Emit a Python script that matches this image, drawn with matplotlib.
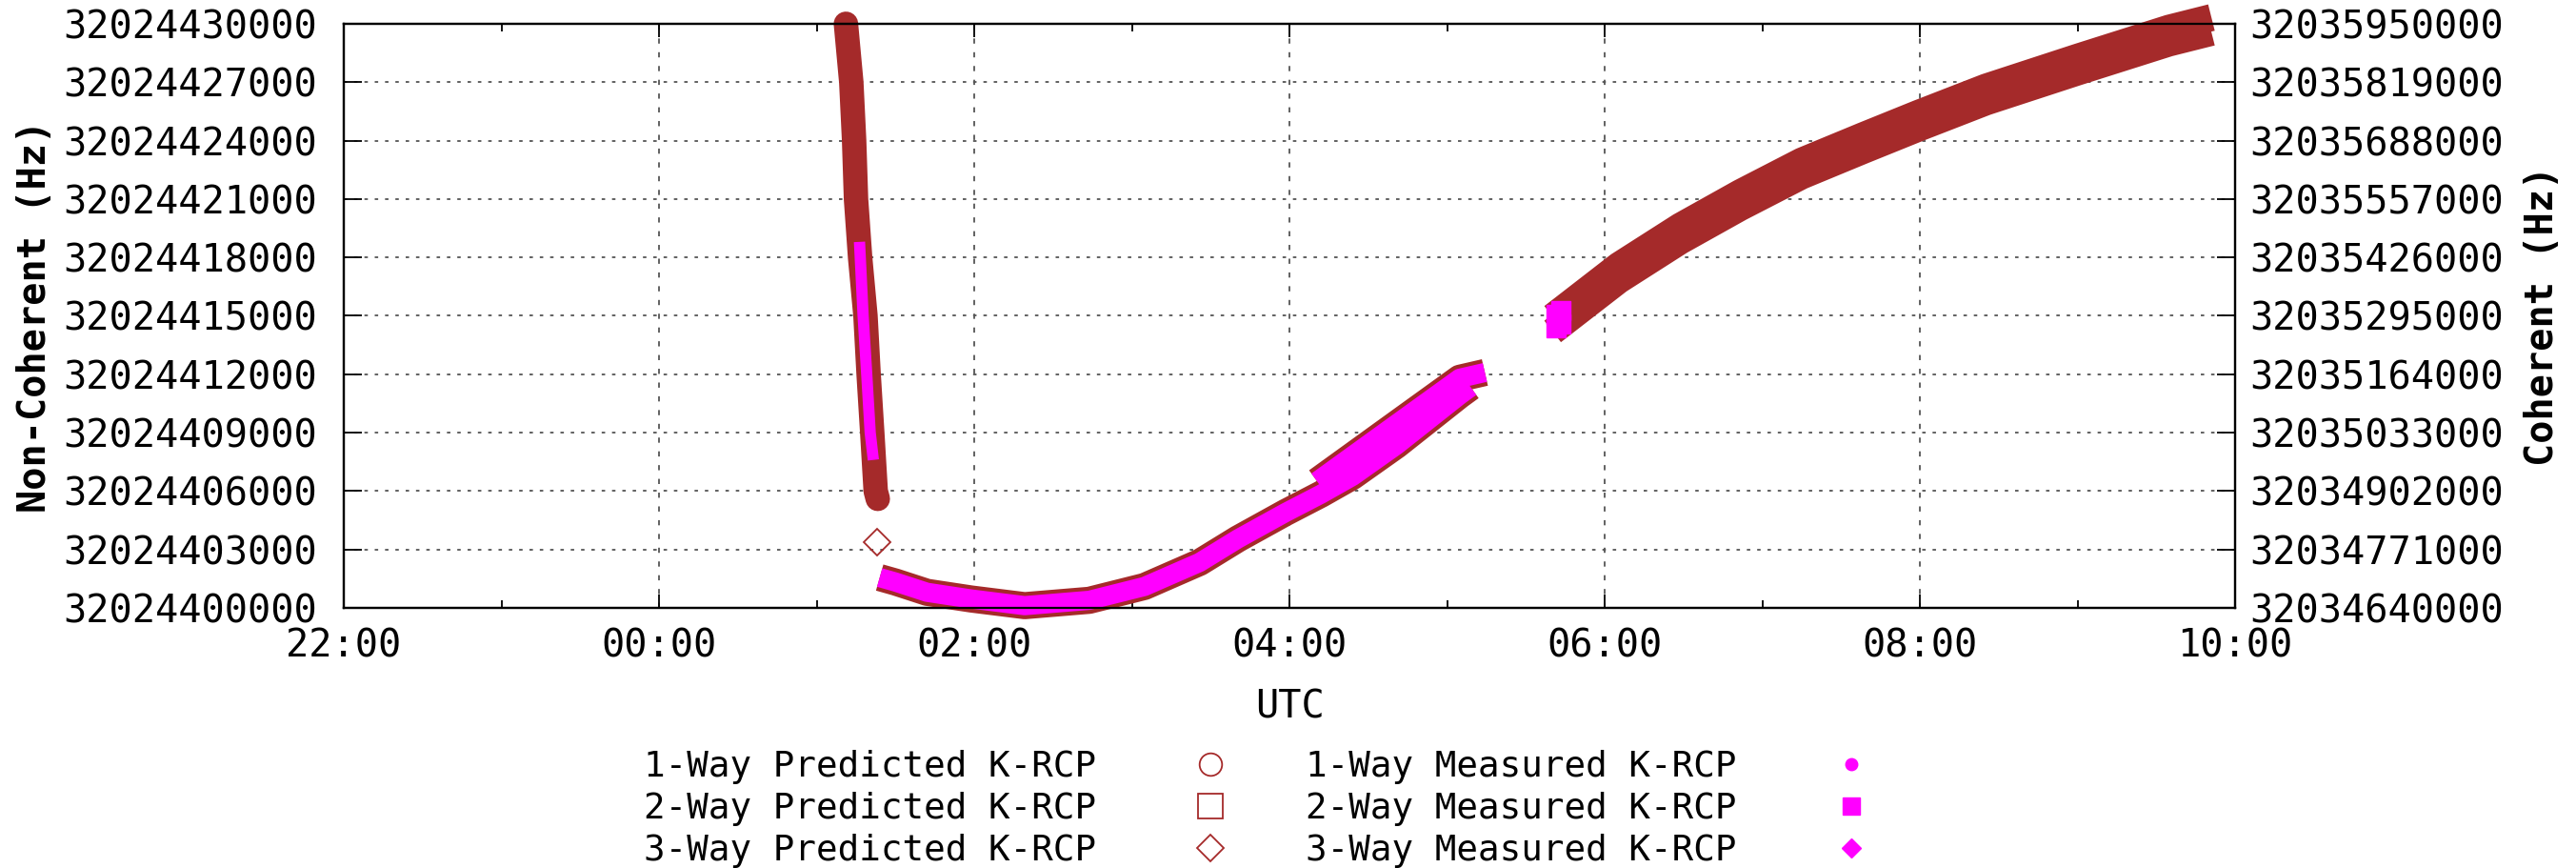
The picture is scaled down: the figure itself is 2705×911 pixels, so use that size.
import matplotlib.pyplot as plt
from matplotlib.lines import Line2D

plt.rcParams['font.family'] = ['DejaVu Sans Mono', 'DejaVu Sans']
plt.rcParams['font.size'] = 29

brown = '#a52a2a'
magenta = '#ff00ff'

# time axis: hours after 00:00 UTC (22:00 of the day before = -2)
time_ticks = [-2, 0, 2, 4, 6, 8, 10]
time_labels = ['22:00', '00:00', '02:00', '04:00', '06:00', '08:00', '10:00']
minor_ticks = [-1, 1, 3, 5, 7, 9]

noncoh_ticks = [32024400000, 32024403000, 32024406000, 32024409000, 32024412000, 32024415000,
                32024418000, 32024421000, 32024424000, 32024427000, 32024430000]
coh_ticks = [32034640000, 32034771000, 32034902000, 32035033000, 32035164000, 32035295000,
             32035426000, 32035557000, 32035688000, 32035819000, 32035950000]

# 1-way (non-coherent, left axis)
p1_t = [1.186, 1.22, 1.238, 1.25, 1.276, 1.31, 1.33, 1.353, 1.375, 1.388]
p1_f = [32024430000, 32024427000, 32024424000, 32024421000, 32024418000, 32024415000,
        32024412000, 32024409000, 32024406000, 32024405600]
m1_t = [1.272, 1.295, 1.318, 1.34, 1.36]
m1_f = [32024418800, 32024415000, 32024412000, 32024409000, 32024407600]

# 2-way (coherent, right axis)
p2a_t = [1.40, 1.50, 1.70, 1.98, 2.32, 2.73, 3.08, 3.43, 3.674, 3.976, 4.20, 4.40, 4.68, 5.08, 5.15]
p2a_f = [32034708000, 32034698000, 32034675000, 32034660000, 32034645000, 32034657000, 32034688000,
         32034742000, 32034795000, 32034854000, 32034895000, 32034935000, 32035005000, 32035117000,
         32035135000]
p2b_t = [5.67, 6.09, 6.48, 6.86, 7.25, 7.64, 7.99, 8.42, 9.00, 9.58, 9.85]
p2b_f = [32035260000, 32035375000, 32035463000, 32035538000, 32035609000, 32035666000,
         32035716000, 32035775000, 32035842000, 32035907000, 32035931000]
m2a_t = p2a_t
m2a_f = p2a_f
m2b_t = [5.69, 5.72]
m2b_f = [32035268000, 32035276000]

# 3-way (coherent, right axis)
p3_pt_t = [1.385]
p3_pt_f = [32034787000]
p3a_t = [4.175, 4.68, 5.08, 5.24]
p3a_f = [32034924000, 32035053000, 32035155000, 32035168000]
p3b_t = [5.67, 6.09, 6.48, 6.86, 7.25, 7.64, 7.99, 8.42, 9.00, 9.58, 9.85]
p3b_f = [32035293000, 32035408000, 32035496000, 32035571000, 32035642000, 32035699000,
         32035749000, 32035808000, 32035875000, 32035940000, 32035964000]
m3a_t = p3a_t
m3a_f = p3a_f
m3b_t = [5.69, 5.72]
m3b_f = [32035298000, 32035306000]

legend_labels = ['1-Way Predicted K-RCP', '2-Way Predicted K-RCP', '3-Way Predicted K-RCP',
                 '1-Way Measured K-RCP', '2-Way Measured K-RCP', '3-Way Measured K-RCP']

fig = plt.figure(figsize=(27.05, 9.11), dpi=100)
ax = fig.add_axes([0.13346, 0.29967, 0.73420, 0.67289])
ax2 = ax.twinx()

band = dict(solid_capstyle='butt', solid_joinstyle='round', clip_on=False)

# dense marker bands in the original, drawn as thick lines here
ax.plot(p1_t, p1_f, color=brown, lw=18.5, solid_capstyle='round', solid_joinstyle='round', clip_on=False)
ax.plot(m1_t, m1_f, color=magenta, lw=8.5, **band)

ax2.plot(p2a_t, p2a_f, color=brown, lw=20.5, **band)
ax2.plot(p3a_t, p3a_f, color=brown, lw=20.5, **band)
ax2.plot(m2a_t, m2a_f, color=magenta, lw=14.5, **band)
ax2.plot(m3a_t, m3a_f, color=magenta, lw=14.5, **band)
ax2.plot(p2b_t, p2b_f, color=brown, lw=20.5, **band)
ax2.plot(p3b_t, p3b_f, color=brown, lw=20.5, **band)
ax2.plot(m2b_t, m2b_f, color=magenta, marker='s', ms=14, lw=0, mec=magenta)
ax2.plot(m3b_t, m3b_f, color=magenta, marker='s', ms=14, lw=0, mec=magenta)
ax2.plot(p3_pt_t, p3_pt_f, ls='none', marker='D', ms=14, mfc='none', mec=brown, mew=1.3)

ax.set_xlim(-2, 10)
ax.set_ylim(noncoh_ticks[0], noncoh_ticks[-1])
ax2.set_ylim(coh_ticks[0], coh_ticks[-1])

ax.set_xticks(time_ticks)
ax.set_xticklabels(time_labels)
ax.set_xticks(minor_ticks, minor=True)
ax.set_yticks(noncoh_ticks)
ax.set_yticklabels([str(v) for v in noncoh_ticks])
ax2.set_yticks(coh_ticks)
ax2.set_yticklabels([str(v) for v in coh_ticks])

ax.tick_params(axis='x', which='major', direction='in', length=10, width=1.3, top=True, pad=15)
ax.tick_params(axis='x', which='minor', direction='in', length=6, width=1.3, top=True)
ax.tick_params(axis='y', direction='in', length=14, width=1.3, left=True, right=False, pad=20)
ax2.tick_params(axis='y', direction='in', length=14, width=1.3, pad=11)

ax.grid(True, axis='x', color='#555555', lw=1.3, ls=(0, (3, 5)))
ax.grid(True, axis='y', color='#555555', lw=1.3, ls=(0, (2, 4)))
for a in (ax, ax2):
    for s in a.spines.values():
        s.set_linewidth(1.6)

ax.set_xlabel('UTC', va='center')
ax.xaxis.set_label_coords(0.5, -0.171)
ax.set_ylabel('Non-Coherent (Hz)', weight='bold', va='center')
ax.yaxis.set_label_coords(-0.1635, 0.5)
ax2.set_ylabel('Coherent (Hz)', weight='bold', va='center', rotation=90)
ax2.yaxis.set_label_coords(1.1625, 0.5)

handles = [
    Line2D([], [], ls='none', marker='o', ms=17, mfc='none', mec=brown, mew=1.3),
    Line2D([], [], ls='none', marker='s', ms=19, mfc='none', mec=brown, mew=1.3),
    Line2D([], [], ls='none', marker='D', ms=14, mfc='none', mec=brown, mew=1.3),
    Line2D([], [], ls='none', marker='o', ms=9, color=magenta),
    Line2D([], [], ls='none', marker='s', ms=13, color=magenta),
    Line2D([], [], ls='none', marker='D', ms=10, color=magenta),
]
fig.legend(handles, legend_labels, ncol=2, markerfirst=False, frameon=False, fontsize=27,
           loc='upper left', bbox_to_anchor=(676 / 2705, 1 - 787 / 911),
           borderpad=0, borderaxespad=0, handlelength=1.0, handletextpad=2.7,
           columnspacing=2.17, labelspacing=0.21)

plt.savefig('out.png', dpi=100)
plt.close()
